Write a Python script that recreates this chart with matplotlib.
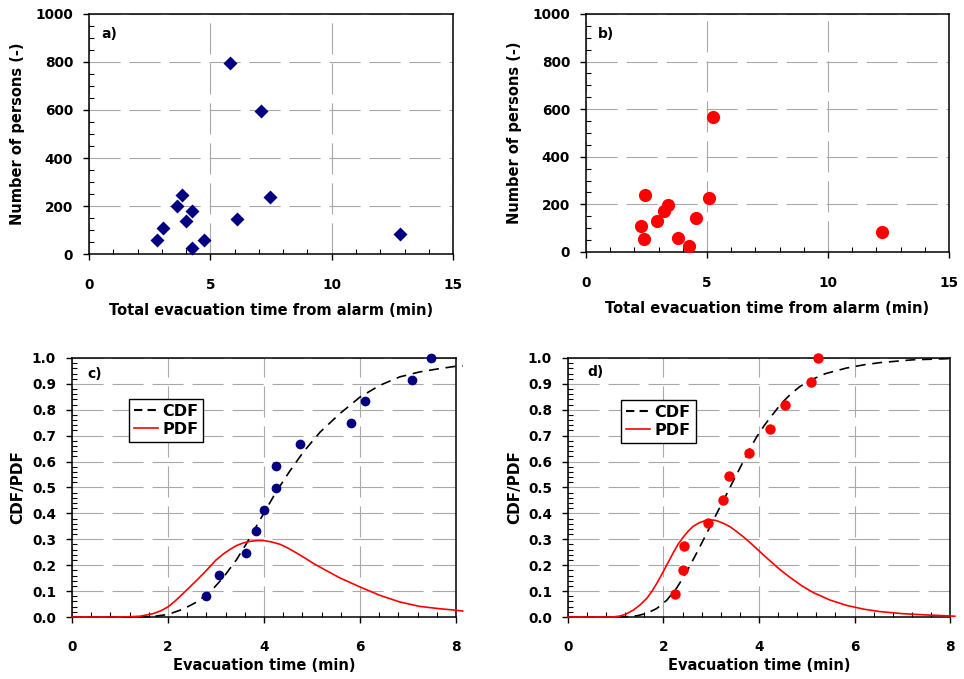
import matplotlib
matplotlib.use("Agg")
import matplotlib.pyplot as plt
from matplotlib.ticker import MultipleLocator, FormatStrFormatter
from matplotlib.lines import Line2D

plt.rcParams['font.family'] = ['DejaVu Sans']
plt.rcParams['font.weight'] = 'bold'
plt.rcParams['axes.labelweight'] = 'bold'

# a) / c) data set (blue)
a_time = [5.82, 7.09, 7.47, 3.85, 3.63, 4.23, 4.00, 3.07, 2.79, 4.74, 4.26, 6.10, 12.80]
a_persons = [795, 596, 236, 247, 202, 178, 137, 110, 58, 60, 24, 147, 85]

c_time = [2.79, 3.06, 3.62, 3.83, 3.99, 4.24, 4.25, 4.76, 5.82, 6.10, 7.08, 7.47]
c_frac = [0.083, 0.164, 0.248, 0.333, 0.415, 0.498, 0.582, 0.666, 0.750, 0.832, 0.916, 1.0]

c_cdf_t = [0, 1.4, 1.7, 2.0, 2.31, 2.60, 2.88, 3.15, 3.43, 3.63, 3.84, 4.05, 4.26, 4.54,
           4.82, 5.17, 5.58, 6.0, 6.41, 6.83, 7.24, 7.66, 8.0, 8.14]
c_cdf = [0, 0, 0.002, 0.010, 0.030, 0.058, 0.097, 0.152, 0.222, 0.282, 0.350, 0.418, 0.485, 0.564,
         0.637, 0.714, 0.785, 0.849, 0.894, 0.927, 0.946, 0.959, 0.968, 0.970]
c_pdf_t = [0, 1.0, 1.2, 1.42, 1.69, 1.85, 2.0, 2.15, 2.31, 2.45, 2.60, 2.75, 2.88, 3.0, 3.15,
           3.3, 3.43, 3.57, 3.71, 3.85, 4.0, 4.15, 4.33, 4.5, 4.68, 4.85, 5.02, 5.30, 5.58,
           6.0, 6.41, 6.83, 7.24, 7.66, 8.0, 8.14]
c_pdf = [0, 0, 0.001, 0.003, 0.013, 0.024, 0.039, 0.062, 0.090, 0.115, 0.142, 0.170, 0.196,
         0.220, 0.243, 0.262, 0.276, 0.286, 0.292, 0.295, 0.295, 0.290, 0.281, 0.266, 0.247,
         0.228, 0.208, 0.179, 0.151, 0.116, 0.084, 0.058, 0.041, 0.032, 0.026, 0.023]

# b) / d) data set (red)
b_time = [5.23, 5.08, 2.42, 3.39, 3.23, 2.93, 2.26, 2.41, 3.80, 4.24, 4.55, 12.23]
b_persons = [567, 227, 238, 196, 172, 132, 108, 56, 60, 24, 141, 83]

d_time = [2.25, 2.41, 2.43, 2.94, 3.25, 3.38, 3.80, 4.23, 4.54, 5.09, 5.23]
d_frac = [0.090, 0.180, 0.273, 0.363, 0.453, 0.544, 0.634, 0.726, 0.818, 0.909, 1.0]

d_cdf_t = [0, 1.1, 1.3, 1.45, 1.65, 1.86, 2.07, 2.28, 2.49, 2.70, 2.91, 3.11, 3.32, 3.53, 3.67,
           3.81, 3.95, 4.12, 4.30, 4.47, 4.65, 4.85, 5.07, 5.4, 5.83, 6.18, 6.53, 7.23, 8.1]
d_cdf = [0, 0, 0.002, 0.005, 0.014, 0.033, 0.065, 0.113, 0.176, 0.249, 0.325, 0.398, 0.474,
         0.550, 0.600, 0.650, 0.695, 0.742, 0.785, 0.825, 0.858, 0.889, 0.914, 0.940, 0.961,
         0.973, 0.982, 0.993, 0.998]
d_pdf_t = [0, 0.95, 1.09, 1.2, 1.37, 1.5, 1.65, 1.76, 1.86, 1.93, 2.0, 2.1, 2.21, 2.31, 2.42,
           2.52, 2.62, 2.75, 2.87, 2.97, 3.05, 3.11, 3.25, 3.39, 3.53, 3.67, 3.85, 4.02, 4.2,
           4.37, 4.5, 4.65, 4.9, 5.14, 5.48, 5.83, 6.2, 6.53, 7.0, 7.5, 8.0, 8.1]
d_pdf = [0, 0, 0.004, 0.010, 0.027, 0.045, 0.072, 0.100, 0.130, 0.153, 0.177, 0.212, 0.250,
         0.282, 0.310, 0.332, 0.350, 0.364, 0.372, 0.375, 0.374, 0.372, 0.362, 0.349, 0.330,
         0.310, 0.281, 0.252, 0.222, 0.194, 0.174, 0.153, 0.120, 0.094, 0.066, 0.045, 0.030,
         0.021, 0.013, 0.008, 0.004, 0.003]

GRID = dict(color='#a8a8a8', lw=0.8, linestyle=(0, (28, 8)))
BLUE = '#000080'
RED = '#ff0000'


def style(ax, xmax, xmaj, xmin, ymax, ymaj, ymin, xpad, ypad):
    ax.set_xlim(0, xmax)
    ax.set_ylim(0, ymax)
    ax.xaxis.set_major_locator(MultipleLocator(xmaj))
    ax.xaxis.set_minor_locator(MultipleLocator(xmin))
    ax.yaxis.set_major_locator(MultipleLocator(ymaj))
    ax.yaxis.set_minor_locator(MultipleLocator(ymin))
    ax.tick_params(which='major', direction='out', length=4.5, width=1, labelsize=9.8)
    ax.tick_params(axis='x', which='major', pad=xpad)
    ax.tick_params(axis='y', which='major', pad=ypad)
    ax.tick_params(which='minor', direction='in', length=3.5, width=0.8)
    ax.grid(True, which='major', **GRID)
    ax.set_axisbelow(True)
    for s in ax.spines.values():
        s.set_linewidth(1.1)


fig = plt.figure(figsize=(9.64, 6.79), dpi=100)
axes = []

# a)
ax = fig.add_axes([0.0923, 0.6259, 0.3777, 0.3535])
style(ax, 15, 5, 1, 1000, 200, 50, 13, 7)
ax.plot(a_time, a_persons, 'D', color=BLUE, ms=6.8, mec='none', clip_on=False, zorder=3)
ax.set_xlabel('Total evacuation time from alarm (min)', fontsize=10.5, fontweight='bold')
ax.set_ylabel('Number of persons (-)', fontsize=10.5, fontweight='bold')
ax.xaxis.set_label_coords(0.5, -0.205)
ax.yaxis.set_label_coords(-0.176, 0.5)
ax.text(0.033, 0.917, 'a)', transform=ax.transAxes, fontsize=10, va='center', fontweight='bold')
axes.append(ax)

# b)
ax = fig.add_axes([0.6079, 0.6289, 0.3765, 0.3505])
style(ax, 15, 5, 1, 1000, 200, 50, 13, 7)
ax.plot(b_time, b_persons, 'o', color=RED, ms=9.5, mec='none', clip_on=False, zorder=3)
ax.set_xlabel('Total evacuation time from alarm (min)', fontsize=10.5, fontweight='bold')
ax.set_ylabel('Number of persons (-)', fontsize=10.5, fontweight='bold')
ax.xaxis.set_label_coords(0.5, -0.207)
ax.yaxis.set_label_coords(-0.176, 0.5)
ax.text(0.033, 0.918, 'b)', transform=ax.transAxes, fontsize=10, va='center', fontweight='bold')
axes.append(ax)


def dist_panel(rect, t, frac, color, ms, cdf_t, cdf, pdf_t, pdf, label, lab_xy, leg_xy):
    ax = fig.add_axes(rect)
    style(ax, 8, 2, 0.4, 1.0, 0.1, 0.02, 12, 7)
    ax.yaxis.set_major_formatter(FormatStrFormatter('%.1f'))
    ax.plot(cdf_t, cdf, color='black', lw=1.2, linestyle=(0, (6, 4)), clip_on=False, zorder=3)
    ax.plot(pdf_t, pdf, color=RED, lw=1.2, clip_on=False, zorder=3)
    ax.plot(t, frac, 'o', color=color, ms=ms, mec='none', clip_on=False, zorder=4)
    ax.set_xlabel('Evacuation time (min)', fontsize=10.5, fontweight='bold')
    ax.set_ylabel('CDF/PDF', fontsize=11, fontweight='bold')
    ax.xaxis.set_label_coords(0.5, -0.158)
    ax.yaxis.set_label_coords(lab_xy, 0.5)
    ax.text(label[1], label[2], label[0], transform=ax.transAxes, fontsize=10, va='center',
            fontweight='bold')
    handles = [Line2D([], [], color='black', lw=1.5, linestyle=(0, (4, 2.5))),
               Line2D([], [], color=RED, lw=1.2)]
    leg = ax.legend(handles, ['CDF', 'PDF'], loc='upper left', bbox_to_anchor=leg_xy,
                    borderaxespad=0, fancybox=False, framealpha=1, edgecolor='black',
                    prop={'size': 11.5, 'weight': 'bold'}, handlelength=1.5,
                    handletextpad=0.3, borderpad=0.3, labelspacing=0.2)
    leg.get_frame().set_linewidth(1.0)
    return ax


# c)
axes.append(dist_panel([0.0747, 0.0913, 0.3983, 0.3815], c_time, c_frac, BLUE, 7,
                       c_cdf_t, c_cdf, c_pdf_t, c_pdf, ('c)', 0.039, 0.94), -0.122,
                       (0.148, 0.842)))

# d)
axes.append(dist_panel([0.5892, 0.0913, 0.3963, 0.3815], d_time, d_frac, RED, 7.5,
                       d_cdf_t, d_cdf, d_pdf_t, d_pdf, ('d)', 0.052, 0.946), -0.12,
                       (0.139, 0.838)))

# tick labels only exist after a draw, make them bold then
fig.canvas.draw()
for ax in axes:
    for lbl in ax.get_xticklabels() + ax.get_yticklabels():
        lbl.set_fontweight('bold')

fig.savefig('out.png', dpi=100)
